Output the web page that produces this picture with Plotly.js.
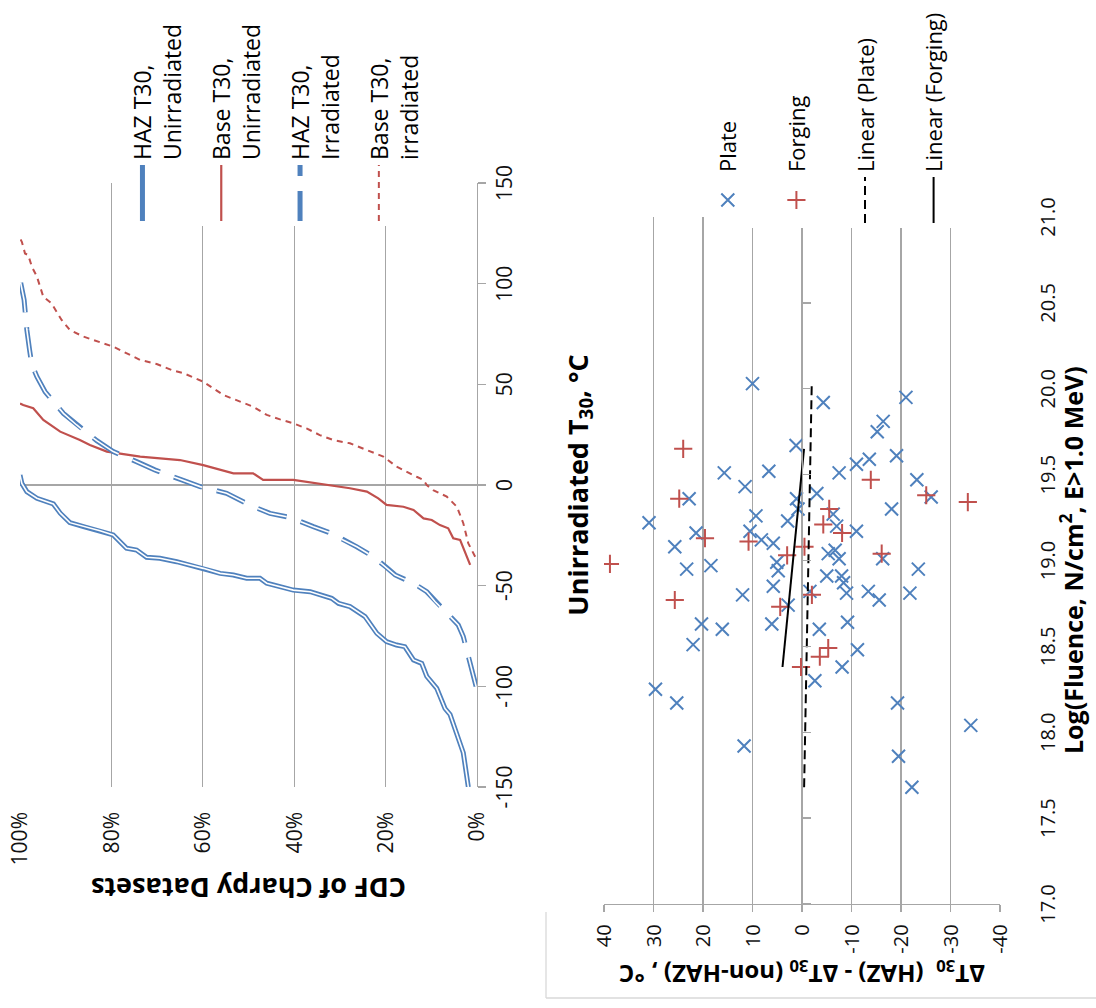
<!DOCTYPE html>
<html><head><meta charset="utf-8">
<script src="https://cdn.plot.ly/plotly-3.0.1.min.js"></script>
<style>
html,body{margin:0;padding:0;background:#fff;overflow:hidden;width:1096px;height:1008px;}
#wrap{position:absolute;left:0;top:0;width:1008px;height:1096px;transform-origin:0 0;transform:translate(0px,1008px) rotate(-90deg);}
#chart{width:1008px;height:1096px;}
</style></head><body><div id="wrap"><div id="chart"></div></div>
<script>
// ---- CDF chart data (Unirradiated T30 in °C, cumulative fraction) ----
const hazUnirrT   = [-150,-133,-114,-111,-101,-95,-88.6,-86.9,-80.3,-79.5,-77.8,-73.7,-65.4,-60.4,-58.8,-56.3,-53,-52.2,-48.8,-47.2,-46.3,-46.3,-44.7,-43.9,-41.4,-38.1,-36.4,-35.9,-32.3,-31.4,-24.8,-22.7,-20.7,-18.7,-14,-9.4,-6.6,-3.3,0.8,5];
const hazUnirrCdf = [0.019,0.030,0.059,0.070,0.088,0.110,0.121,0.139,0.158,0.176,0.198,0.219,0.245,0.278,0.303,0.318,0.365,0.402,0.460,0.468,0.475,0.504,0.533,0.562,0.599,0.657,0.694,0.723,0.745,0.767,0.796,0.825,0.861,0.891,0.912,0.927,0.963,0.985,0.996,1.0];

const baseUnirrT   = [-39.7,-31.5,-27.3,-26.5,-21.5,-19.9,-17.4,-16.6,-12.4,-10.8,-9.9,-6.6,-3.3,-1.6,0,1.7,2.5,2.5,5.8,5.8,9.9,12.4,14.1,16.6,19.9,22.3,26.5,32.3,38.1,39.7,40.5];
const baseUnirrCdf = [0.015,0.030,0.037,0.052,0.063,0.081,0.099,0.117,0.139,0.161,0.198,0.216,0.241,0.278,0.329,0.373,0.402,0.468,0.490,0.533,0.599,0.650,0.737,0.810,0.847,0.869,0.912,0.949,0.971,0.993,1.0];

const hazIrrT   = [-100,-84.4,-75.3,-69.5,-65.4,-57.9,-53,-48.8,-44.7,-40.9,-35.6,-30.7,-27.3,-24,-20.7,-16.1,-14.1,-10,-4.1,-0.8,2.5,7.5,11.6,16.6,22,29.8,35.6,41.4,46.3,53.8,59.6,67,77,91.9,101];
const hazIrrCdf = [0.002,0.019,0.030,0.041,0.059,0.092,0.110,0.139,0.179,0.198,0.227,0.263,0.293,0.318,0.358,0.409,0.453,0.497,0.548,0.606,0.646,0.705,0.745,0.796,0.832,0.876,0.905,0.927,0.945,0.963,0.974,0.979,0.985,0.991,0.999];

const baseIrrT   = [-35.6,-29,-19,-10.8,-5.8,-2.5,0,2.5,4.1,9.1,14.1,17.4,20.7,22.3,24.8,28.1,30.6,32.6,34.8,38.9,41.4,44.7,51.3,55.5,57.1,60.1,62.1,68.7,73.7,77,82,90.2,93.5,103.5,108.4,114.2,115,120.8,122.5];
const baseIrrCdf = [0.004,0.019,0.030,0.044,0.066,0.096,0.110,0.117,0.132,0.176,0.205,0.241,0.278,0.314,0.344,0.373,0.402,0.431,0.460,0.490,0.519,0.555,0.599,0.642,0.668,0.701,0.737,0.796,0.861,0.891,0.909,0.931,0.949,0.963,0.974,0.982,0.989,0.996,1.0];

// ---- Scatter chart data (log fluence, ΔT30 HAZ - ΔT30 non-HAZ) ----
const plateF  = [20.03,19.92,19.95,19.81,19.75,19.67,19.59,19.56,19.61,19.51,19.52,19.51,19.43,19.47,19.36,19.39,19.36,19.37,19.30,19.30,19.22,19.26,19.23,19.27,19.16,19.17,19.17,19.20,19.12,19.10,19.08,18.95,18.97,18.99,18.94,18.85,18.80,18.74,18.63,18.63,18.60,18.51,19.04,19.06,19.01,18.91,18.91,18.87,18.81,18.82,18.77,18.81,18.95,19.01,18.82,18.60,18.64,18.48,18.38,18.30,18.25,18.17,18.17,18.04,17.92,17.86,17.68];
const plateDT = [10.0,-4.3,-21.0,-16.4,-15.2,1.2,-13.6,-11.0,-19.1,15.7,6.7,-7.5,11.5,-23.2,22.8,-3.0,1.1,-26.1,-18.1,0.8,30.9,9.3,2.9,-6.3,21.4,10.5,-11.0,-7.0,8.2,5.8,25.7,23.3,18.4,5.1,4.8,5.8,12.0,2.8,6.1,20.3,16.1,22.0,-5.3,-6.7,-7.5,-5.0,-8.0,-8.4,-9.0,-13.4,-15.6,-21.8,-23.5,-16.3,-1.6,-3.5,-9.2,-11.2,-8.1,-2.6,29.6,25.3,-19.3,-34.1,11.7,-19.5,-22.2];
const forgF  = [19.65,19.47,19.36,19.38,19.34,19.30,19.21,19.16,19.13,18.98,19.11,18.77,19.03,19.08,19.04,18.80,18.73,18.49,18.44,18.38];
const forgDT = [24.0,-13.9,24.8,-25.1,-33.5,-5.5,-4.3,-8.1,19.6,38.8,10.8,25.7,3.0,-0.5,-16.1,-2.0,4.4,-5.3,-3.6,0.2];

// ---- tick values and labels ----
const cdfTicks = [0,0.2,0.4,0.6,0.8,1.0];
const tempTicks = [-150,-100,-50,0,50,100,150];
const tempLabels = ['-150','-100','-50','0','50','100','150'];
const dtTicks = [-40,-30,-20,-10,0,10,20,30,40];
const dtLabels = ['-40','-30','-20','-10','0','10','20','30','40'];

function linFit(xs, ys){
  const n = xs.length;
  const mx = xs.reduce((a,b)=>a+b,0)/n, my = ys.reduce((a,b)=>a+b,0)/n;
  let sxy=0, sxx=0;
  for(let i=0;i<n;i++){ sxy += (xs[i]-mx)*(ys[i]-my); sxx += (xs[i]-mx)*(xs[i]-mx); }
  const b = sxy/sxx, a = my - b*mx;
  const x0 = Math.min(...xs), x1 = Math.max(...xs);
  return {x:[x0,x1], y:[a+b*x0, a+b*x1]};
}
const plateFit = linFit(plateF, plateDT);
const forgFit = linFit(forgF, forgDT);

const blue = '#4f81bd', red = '#c0504d', grid = '#a6a6a6';
const FONT = 'Open Sans, Noto Sans, sans-serif';

const traces = [
  {x:hazUnirrT, y:hazUnirrCdf, mode:'lines', name:'HAZ T30,<br>Unirradiated', legend:'legend', legendgroup:'a',
   line:{color:blue, width:5}, xaxis:'x', yaxis:'y', hoverinfo:'skip'},
  {x:hazUnirrT, y:hazUnirrCdf, mode:'lines', showlegend:false, legendgroup:'a',
   line:{color:'#ffffff', width:1.6}, xaxis:'x', yaxis:'y', hoverinfo:'skip'},
  {x:baseUnirrT, y:baseUnirrCdf, mode:'lines', name:'Base T30,<br>Unirradiated', legend:'legend', legendgroup:'b',
   line:{color:red, width:2.2}, xaxis:'x', yaxis:'y', hoverinfo:'skip'},
  {x:hazIrrT, y:hazIrrCdf, mode:'lines', name:'HAZ T30,<br>Irradiated', legend:'legend', legendgroup:'c',
   line:{color:blue, width:5, dash:'30px,15px'}, xaxis:'x', yaxis:'y', hoverinfo:'skip'},
  {x:hazIrrT, y:hazIrrCdf, mode:'lines', showlegend:false, legendgroup:'c',
   line:{color:'#ffffff', width:1.6, dash:'30px,15px'}, xaxis:'x', yaxis:'y', hoverinfo:'skip'},
  {x:baseIrrT, y:baseIrrCdf, mode:'lines', name:'Base T30,<br>irradiated', legend:'legend', legendgroup:'d',
   line:{color:red, width:2, dash:'6px,5px'}, xaxis:'x', yaxis:'y', hoverinfo:'skip'},

  {x:plateF, y:plateDT, mode:'none', showlegend:false, xaxis:'x3', yaxis:'y2', hoverinfo:'skip'},
  {x:plateF, y:plateDT, mode:'markers', name:'Plate', legend:'legend2', legendgroup:'p',
   marker:{symbol:'x-thin-open', size:13, color:blue, line:{color:blue, width:2}}, xaxis:'x2', yaxis:'y2'},
  {x:forgF, y:forgDT, mode:'markers', name:'Forging', legend:'legend2', legendgroup:'f',
   marker:{symbol:'cross-thin-open', size:13, color:red, line:{color:red, width:2}}, xaxis:'x2', yaxis:'y2'},
  {x:plateFit.x, y:plateFit.y, mode:'lines', name:'Linear (Plate)', legend:'legend2', legendgroup:'lp',
   line:{color:'#000', width:2, dash:'9px,5px'}, xaxis:'x2', yaxis:'y2'},
  {x:forgFit.x, y:forgFit.y, mode:'lines', name:'Linear (Forging)', legend:'legend2', legendgroup:'lf',
   line:{color:'#000', width:2}, xaxis:'x2', yaxis:'y2'}
];

const W = 1008, H = 1096;
const sy0 = 1-1000/H, sy1 = 1-604/H;

const layout = {
  width:W, height:H, margin:{l:0,r:0,t:0,b:0},
  paper_bgcolor:'#ffffff', plot_bgcolor:'rgba(0,0,0,0)',
  font:{family:FONT, color:'#111', size:21},
  showlegend:true,
  xaxis:{domain:[221/W, 825/W], anchor:'y', range:[-150,150], tickvals:tempTicks, ticktext:tempLabels,
    showgrid:false, zeroline:true, zerolinecolor:grid, zerolinewidth:1.3,
    showline:true, linecolor:grid, linewidth:1.3, ticks:'outside', ticklen:8, tickcolor:grid, tickwidth:1.3,
    tickfont:{size:21, color:'#111'},
    title:{text:'Unirradiated T<sub>30</sub>, °C', font:{size:27, weight:700, color:'#000'}, standoff:52}},
  yaxis:{domain:[1-477/H, 1-20/H], anchor:'x', range:[0,1], tickvals:cdfTicks, tickformat:'.0%',
    showgrid:true, gridcolor:grid, gridwidth:1.3, zeroline:false, showline:false, ticks:'',
    ticklabelstandoff:24, tickfont:{size:21, color:'#111'},
    title:{text:'CDF of Charpy Datasets', font:{size:27, weight:700, color:'#000'}, standoff:4}},
  xaxis2:{domain:[104/W, 791/W], anchor:'y2', range:[17,21], dtick:0.5, tick0:17, tickformat:'.1f',
    showgrid:false, zeroline:false, showline:false, ticks:'', ticklabelstandoff:34,
    tickfont:{size:20, color:'#111'}},
  xaxis3:{domain:[104/W, 791/W], overlaying:'x2', anchor:'free', position:(sy0+sy1)/2, range:[17,21], dtick:0.5, tick0:17,
    showgrid:false, zeroline:false, showline:true, linecolor:grid, linewidth:1.3,
    ticks:'outside', ticklen:8, tickcolor:grid, tickwidth:1.3, showticklabels:false},
  yaxis2:{domain:[sy0, sy1], anchor:'x2', range:[-40,40], tickvals:dtTicks, ticktext:dtLabels,
    showgrid:true, gridcolor:grid, gridwidth:1.3, zeroline:false,
    showline:true, linecolor:grid, linewidth:1.3, ticks:'outside', ticklen:7, tickcolor:grid, tickwidth:1.3,
    ticklabelstandoff:8, tickfont:{size:20, color:'#111'},
    title:{text:'ΔT<sub>30</sub>  (HAZ) - ΔT<sub>30</sub> (non-HAZ) , °C', font:{size:24, weight:700, color:'#000'}, standoff:4}},
  annotations:[
    {xref:'paper', yref:'paper', x:(104+791)/2/W, y:1-1071/H, xanchor:'center', yanchor:'middle', showarrow:false,
     text:'Log(Fluence, N/cm<sup>2</sup>, E>1.0 MeV)', font:{size:25, weight:700, color:'#000'}}
  ],
  legend:{x:782/W, xanchor:'left', y:1-121/H, yanchor:'top', bgcolor:'#ffffff', borderwidth:0,
    font:{size:23, color:'#000'}, valign:'top', traceorder:'grouped', tracegroupgap:16, itemwidth:56},
  legend2:{x:780/W, xanchor:'left', y:1-707/H, yanchor:'top', bgcolor:'#ffffff', borderwidth:0,
    font:{size:22, color:'#000'}, valign:'middle', traceorder:'grouped', tracegroupgap:37, itemwidth:46},
  shapes:[
    {type:'line', xref:'paper', yref:'paper', x0:10/W, x1:96/W, y0:1-546/H, y1:1-546/H, line:{color:'#d9d9d9', width:1.3}},
    {type:'line', xref:'paper', yref:'paper', x0:10/W, x1:10/W, y0:1-546/H, y1:0, line:{color:'#d9d9d9', width:1.3}}
  ]
};

Plotly.newPlot('chart', traces, layout, {staticPlot:true, displayModeBar:false});
</script>
</body></html>
